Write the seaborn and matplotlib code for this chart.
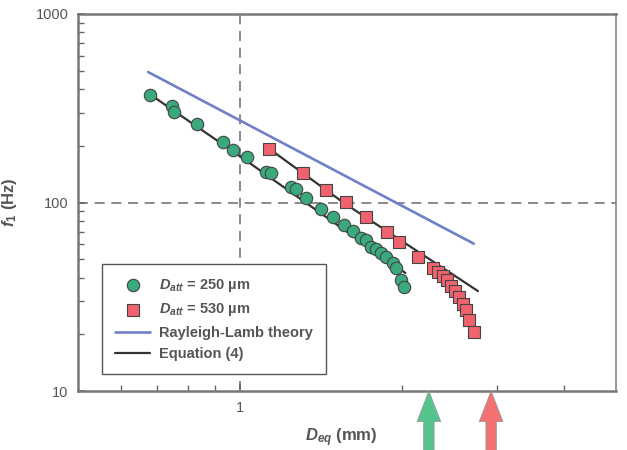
import matplotlib
matplotlib.use("Agg")
import matplotlib.pyplot as plt
from matplotlib.ticker import LogLocator, NullFormatter
import seaborn as sns
import pandas as pd

# D_att = 250 um (green circles)
d_250 = [0.680, 0.747, 0.754, 0.832, 0.930, 0.970, 1.030, 1.118, 1.142, 1.244,
         1.271, 1.326, 1.414, 1.489, 1.561, 1.622, 1.679, 1.715, 1.752, 1.790,
         1.828, 1.868, 1.925, 1.950, 1.992, 2.018]
f_250 = [372, 325, 302, 261, 209, 190, 174, 145, 143, 121,
         118, 106, 92.4, 83.8, 76.0, 70.6, 64.8, 63.2, 58.1, 56.6,
         54.0, 51.4, 47.7, 44.9, 38.8, 35.6]

# D_att = 530 um (red squares)
d_530 = [1.132, 1.309, 1.445, 1.574, 1.715, 1.876, 1.975, 2.142, 2.284, 2.334,
         2.384, 2.425, 2.467, 2.510, 2.553, 2.597, 2.630, 2.665, 2.722]
f_530 = [192, 143, 116, 100.6, 83.8, 69.8, 61.7, 51.4, 44.9, 42.8,
         40.7, 38.8, 36.1, 33.9, 31.5, 28.9, 26.9, 23.8, 20.6]

# Rayleigh-Lamb theory
rl_d = [0.675, 2.72]
rl_f = [492, 60.5]

# Equation (4)
eq_250_d = [0.680, 1.0, 2.03]
eq_250_f = [375, 176, 42.3]
eq_530_d = [1.13, 1.561, 2.77]
eq_530_f = [194, 99.4, 33.9]

# arrows under the x axis
arrow_x = [2.245, 2.93]
arrow_colors = ["#55c48c", "#f27272"]

sns.set_theme(style="white")
plt.rcParams["font.family"] = ["Liberation Sans", "DejaVu Sans"]
plt.rcParams["mathtext.fontset"] = "custom"
plt.rcParams["mathtext.it"] = "Liberation Sans:italic:bold"
plt.rcParams["mathtext.rm"] = "Liberation Sans:bold"
plt.rcParams["mathtext.bf"] = "Liberation Sans:bold"

txt = "#555555"
green = "#3aa97c"
red = "#f0626e"
blue = "#7080c8"
black = "#333333"

fig = plt.figure(figsize=(6.27, 4.5), dpi=100)
ax = fig.add_axes([0.1244, 0.131, 0.858, 0.838])
ax.set_xscale("log")
ax.set_yscale("log")

ax.axvline(1, color="#777777", lw=1.2, dashes=(6, 4), zorder=0)
ax.axhline(100, color="#777777", lw=1.2, dashes=(6, 4), zorder=0)

sns.lineplot(x=rl_d, y=rl_f, ax=ax, color=blue, lw=1.9, estimator=None,
             label="Rayleigh-Lamb theory", zorder=2)
sns.lineplot(x=eq_250_d, y=eq_250_f, ax=ax, color=black, lw=1.6, estimator=None,
             label="Equation (4)", zorder=2)
sns.lineplot(x=eq_530_d, y=eq_530_f, ax=ax, color=black, lw=1.6, estimator=None,
             zorder=2)

df250 = pd.DataFrame({"d": d_250, "f": f_250})
df530 = pd.DataFrame({"d": d_530, "f": f_530})
sns.scatterplot(data=df250, x="d", y="f", ax=ax, marker="o", s=80, color=green,
                edgecolor="#444444", linewidth=0.8, label=r"$D_{att}$ = 250 µm", zorder=3)
sns.scatterplot(data=df530, x="d", y="f", ax=ax, marker="s", s=64, color=red,
                edgecolor="#444444", linewidth=0.8, label=r"$D_{att}$ = 530 µm", zorder=3)

ax.set_xlim(0.5, 5)
ax.set_ylim(10, 1000)

ax.set_xticks([1])
ax.set_xticklabels(["1"])
ax.set_xticks([0.6, 0.7, 0.8, 0.9, 2, 3, 4], minor=True)
ax.set_xticklabels([], minor=True)
ax.set_yticks([10, 100, 1000])
ax.set_yticklabels(["10", "100", "1000"])
ax.yaxis.set_minor_locator(LogLocator(base=10, subs=range(2, 10)))
ax.yaxis.set_minor_formatter(NullFormatter())
ax.tick_params(axis="both", which="both", direction="in", colors="#666666",
               labelcolor=txt, labelsize=10.5, top=False, right=False, left=True, bottom=True)
ax.tick_params(axis="both", which="major", length=5, width=1.2, pad=7)
ax.tick_params(axis="both", which="minor", length=4, width=1.0)

for s in ["left", "bottom", "top"]:
    ax.spines[s].set_color("#777777")
    ax.spines[s].set_linewidth(1.8)
ax.spines["right"].set_color("#888888")
ax.spines["right"].set_linewidth(1.2)
ax.spines["right"].set_linestyle((0, (1, 1)))

ax.set_xlabel(r"$D_{eq}$ (mm)", fontsize=12, fontweight="bold", color=txt)
ax.set_ylabel(r"$f_1$ (Hz)", fontsize=12, fontweight="bold", color=txt)
ax.xaxis.set_label_coords(0.49, -0.095)
ax.yaxis.set_label_coords(-0.11, 0.5)

handles, labels = ax.get_legend_handles_labels()
order = [labels.index(l) for l in [r"$D_{att}$ = 250 µm", r"$D_{att}$ = 530 µm",
                                    "Rayleigh-Lamb theory", "Equation (4)"]]
leg = ax.legend([handles[i] for i in order], [labels[i] for i in order],
                loc="lower left", bbox_to_anchor=(0.045, 0.045), borderaxespad=0,
                fancybox=False, framealpha=1, edgecolor="#555555",
                prop={"weight": "bold", "size": 10.5}, labelcolor=txt,
                handlelength=2.4, handletextpad=0.6, borderpad=0.9, labelspacing=0.5)
leg.get_frame().set_linewidth(1.0)

for x, c in zip(arrow_x, arrow_colors):
    ax.annotate("", xy=(x, 0), xycoords=("data", "axes fraction"),
                xytext=(x, -0.17), textcoords=("data", "axes fraction"),
                arrowprops=dict(width=7.5, headwidth=17, headlength=22,
                                facecolor=c, edgecolor="#999999", lw=0.6, shrink=0),
                annotation_clip=False)

fig.savefig("out.png", dpi=100)
